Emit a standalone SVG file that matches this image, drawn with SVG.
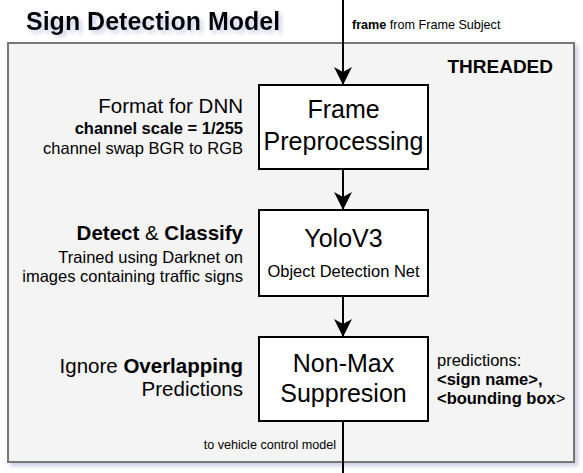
<svg xmlns="http://www.w3.org/2000/svg" width="583" height="473" viewBox="0 0 583 473">
<defs>
<filter id="sh" x="-10%" y="-10%" width="120%" height="120%">
<feDropShadow dx="3" dy="3" stdDeviation="2" flood-color="#8890c8" flood-opacity="0.45"/>
</filter>
<marker id="ah" viewBox="0 0 18 18" refX="18" refY="9" markerWidth="18" markerHeight="18" markerUnits="userSpaceOnUse" orient="auto">
<path d="M0,0 L18,9 L0,18 L5,9 Z" fill="#000"/>
</marker>
<style>
text{font-family:"Liberation Sans",Arial,sans-serif;fill:#000}
.box{fill:#fff;stroke:#000;stroke-width:2}
.big{font-size:25px;text-anchor:middle}
.lbl{font-size:20.5px;text-anchor:end}
.sm{font-size:16.5px;text-anchor:end}
.b{font-weight:bold}
.conn{stroke:#000;stroke-width:2;fill:none}
</style>
</defs>
<g id="container">
<rect x="8" y="43" width="566" height="419" fill="#f4f4f4" stroke="#777" stroke-width="2" filter="url(#sh)"/>
<text x="553" y="73" font-size="19" font-weight="bold" text-anchor="end">THREADED</text>
</g>
<g id="title">
<text x="26" y="30" font-size="25" font-weight="bold" filter="url(#sh)">Sign Detection Model</text>
</g>
<g id="connectors">
<line class="conn" x1="343" y1="0" x2="343" y2="85" marker-end="url(#ah)"/>
<line class="conn" x1="343" y1="169" x2="343" y2="210" marker-end="url(#ah)"/>
<line class="conn" x1="343" y1="296" x2="343" y2="337" marker-end="url(#ah)"/>
<line class="conn" x1="343" y1="421" x2="343" y2="473"/>
<text x="352" y="29" font-size="12.6"><tspan class="b">frame</tspan> from Frame Subject</text>
<text x="336" y="449" font-size="12.6" text-anchor="end">to vehicle control model</text>
</g>
<g id="frame-preprocessing">
<rect class="box" x="259" y="85" width="169" height="84"/>
<text class="big" x="343.5" y="118">Frame</text>
<text class="big" x="343.5" y="150">Preprocessing</text>
<text class="lbl" x="243" y="113">Format for DNN</text>
<text class="sm b" x="243" y="134">channel scale = 1/255</text>
<text class="sm" x="243" y="154">channel swap BGR to RGB</text>
</g>
<g id="yolov3">
<rect class="box" x="259" y="210" width="169" height="86"/>
<text class="big" x="343.5" y="247">YoloV3</text>
<text x="343.5" y="277" font-size="16.5" text-anchor="middle">Object Detection Net</text>
<text class="lbl" x="243" y="240"><tspan class="b">Detect</tspan> &amp; <tspan class="b">Classify</tspan></text>
<text class="sm" x="243" y="263">Trained using Darknet on</text>
<text class="sm" x="243" y="282">images containing traffic signs</text>
</g>
<g id="non-max-suppresion">
<rect class="box" x="259" y="337" width="169" height="84"/>
<text class="big" x="343.5" y="372">Non-Max</text>
<text class="big" x="343.5" y="402">Suppresion</text>
<text class="lbl" x="243" y="373">Ignore <tspan class="b">Overlapping</tspan></text>
<text class="lbl" x="243" y="396">Predictions</text>
<text x="437" y="366" font-size="16.5">predictions:</text>
<text x="437" y="385" font-size="16.5" class="b">&lt;sign name&gt;,</text>
<text x="437" y="404" font-size="16.5"><tspan class="b">&lt;bounding box</tspan>&gt;</text>
</g>
</svg>
